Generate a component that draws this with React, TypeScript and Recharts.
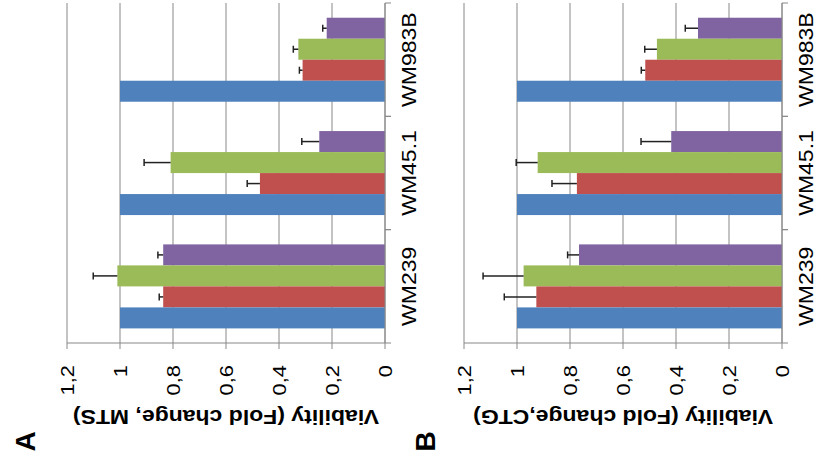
import React from 'react';
import { BarChart, Bar, XAxis, YAxis, CartesianGrid, Label } from 'recharts';

// categories from bottom to top of each panel
const categories = ['WM239', 'WM45.1', 'WM983B'];
const valueTicks = [0, 0.2, 0.4, 0.6, 0.8, 1, 1.2];

// panel A - MTS
const mtsBlue = [1, 1, 1];
const mtsRed = [0.837, 0.472, 0.311];
const mtsRedErr = [0.015, 0.048, 0.012];
const mtsGreen = [1.01, 0.809, 0.327];
const mtsGreenErr = [0.091, 0.1, 0.019];
const mtsPurple = [0.837, 0.248, 0.22];
const mtsPurpleErr = [0.02, 0.066, 0.015];

// panel B - CTG
const ctgBlue = [1, 1, 1];
const ctgRed = [0.927, 0.774, 0.516];
const ctgRedErr = [0.121, 0.094, 0.015];
const ctgGreen = [0.975, 0.922, 0.472];
const ctgGreenErr = [0.153, 0.081, 0.046];
const ctgPurple = [0.766, 0.418, 0.317];
const ctgPurpleErr = [0.043, 0.114, 0.048];

const COLORS = { blue: '#4F81BD', red: '#C0504D', green: '#9BBB59', purple: '#8064A2' };
const AXIS = '#888888';
const FONT = '"Liberation Sans", Arial, sans-serif';
const SX = 1.15; // the source text is a bit wider than plain Arial

const H = 466;
const TOP = 3;
const XAXIS_H = 123;
const BAND = (H - TOP - XAXIS_H) / categories.length;

function buildRows(blue: number[], red: number[], redErr: number[], green: number[], greenErr: number[], purple: number[], purpleErr: number[]) {
  return categories.map((name, i) => ({
    name,
    blue: blue[i],
    red: red[i],
    redErr: redErr[i],
    green: green[i],
    greenErr: greenErr[i],
    purple: purple[i],
    purpleErr: purpleErr[i],
  }));
}

const mtsData = buildRows(mtsBlue, mtsRed, mtsRedErr, mtsGreen, mtsGreenErr, mtsPurple, mtsPurpleErr);
const ctgData = buildRows(ctgBlue, ctgRed, ctgRedErr, ctgGreen, ctgGreenErr, ctgPurple, ctgPurpleErr);

const fmt = (v: number) => String(v).replace('.', ',');

// bar + one-sided error whisker (only the outer cap, like the excel original)
const barShape = (key: string, errKey?: string) => (p: any) => {
  const left = Math.min(p.x, p.x + p.width);
  const w = Math.abs(p.width);
  const top = Math.min(p.y, p.y + p.height);
  const h = Math.abs(p.height);
  const v = p.payload ? p.payload[key] : 0;
  const err = errKey && p.payload ? p.payload[errKey] : 0;
  const len = v ? (w / v) * err : 0;
  const cy = top + h / 2;
  return (
    <g>
      <rect x={left} y={top} width={w} height={h} fill={p.fill} />
      {len > 0 && (
        <g stroke="#222" strokeWidth={1.5}>
          <line x1={left - len} x2={left} y1={cy} y2={cy} />
          <line x1={left - len} x2={left - len} y1={cy - 3.5} y2={cy + 3.5} />
        </g>
      )}
    </g>
  );
};

const ValueTick = (props: any) => {
  const { x, y, payload } = props;
  return (
    <text
      transform={`translate(${x + 7},${y}) rotate(-90) scale(${SX},1)`}
      textAnchor="end"
      fontSize={19}
      fontFamily={FONT}
      fill="#000"
    >
      {fmt(payload.value)}
    </text>
  );
};

const CategoryTick = (props: any) => {
  const { x, y, payload } = props;
  return (
    <g>
      <line x1={x} x2={x + 6} y1={y - BAND / 2} y2={y - BAND / 2} stroke={AXIS} />
      <line x1={x} x2={x + 6} y1={y + BAND / 2} y2={y + BAND / 2} stroke={AXIS} />
      <text
        transform={`translate(${x + 31},${y}) rotate(-90) scale(${SX},1)`}
        textAnchor="middle"
        fontSize={20}
        fontFamily={FONT}
        fill="#000"
      >
        {payload.value}
      </text>
    </g>
  );
};

interface PanelProps {
  data: ReturnType<typeof buildRows>;
  title: string;
  letter: string;
  letterX: number;
  width: number;
  left: number;
}

function Panel({ data, title, letter, letterX, width, left }: PanelProps) {
  const renderTitle = (p: any) => {
    const vb = p.viewBox || { x: 0, y: 0, width: 0 };
    const cx = vb.x + vb.width / 2;
    return (
      <g>
        <text
          transform={`translate(${cx},${vb.y + 66.5}) rotate(180) scale(${SX},1)`}
          textAnchor="middle"
          fontSize={20}
          fontWeight="bold"
          fontFamily={FONT}
          fill="#000"
        >
          {title}
        </text>
        <text
          transform={`translate(${letterX},${441.5}) rotate(-90)`}
          textAnchor="middle"
          fontSize={28}
          fontWeight="bold"
          fontFamily={FONT}
          fill="#000"
        >
          {letter}
        </text>
      </g>
    );
  };

  return (
    <div style={{ position: 'absolute', left, top: 0 }}>
      <BarChart
        width={width}
        height={H}
        data={data}
        layout="vertical"
        margin={{ top: TOP, right: 0, bottom: 0, left: 67 }}
        barCategoryGap="13%"
        barGap={0}
      >
        <CartesianGrid horizontal={false} stroke={AXIS} strokeWidth={1} />
        <XAxis
          type="number"
          domain={[0, 1.2]}
          ticks={valueTicks}
          reversed
          height={XAXIS_H}
          stroke={AXIS}
          tickMargin={16}
          tick={<ValueTick />}
          interval={0}
        >
          <Label content={renderTitle} />
        </XAxis>
        <YAxis
          type="category"
          dataKey="name"
          orientation="right"
          reversed
          width={width - 385}
          stroke={AXIS}
          tickSize={0}
          tickMargin={0}
          tick={<CategoryTick />}
          interval={0}
        />
        <Bar dataKey="purple" fill={COLORS.purple} isAnimationActive={false} shape={barShape('purple', 'purpleErr')} />
        <Bar dataKey="green" fill={COLORS.green} isAnimationActive={false} shape={barShape('green', 'greenErr')} />
        <Bar dataKey="red" fill={COLORS.red} isAnimationActive={false} shape={barShape('red', 'redErr')} />
        <Bar dataKey="blue" fill={COLORS.blue} isAnimationActive={false} shape={barShape('blue')} />
      </BarChart>
    </div>
  );
}

export default function App() {
  return (
    <div style={{ position: 'absolute', left: 0, top: 0, width: 821, height: H, background: '#fff' }}>
      <Panel data={mtsData} title="Viability (Fold change, MTS)" letter="A" letterX={35} width={425} left={0} />
      <Panel data={ctgData} title="Viability (Fold change,CTG)" letter="B" letterX={38} width={424} left={397} />
    </div>
  );
}
